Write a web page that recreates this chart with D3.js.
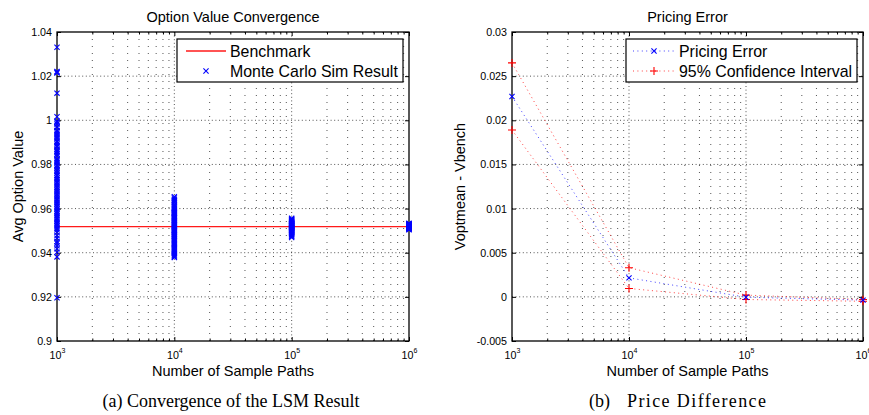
<!DOCTYPE html>
<html>
<head>
<meta charset="utf-8">
<script src="https://cdn.jsdelivr.net/npm/d3@7"></script>
<style>
  html, body { margin: 0; padding: 0; background: #fff; }
  svg { display: block; font-family: "Liberation Sans", Arial, Helvetica, sans-serif; }
  .caption { font-family: "Liberation Serif", "Times New Roman", serif; white-space: pre; }
</style>
</head>
<body>
<script>
// Sample sizes (number of simulated paths)
const nPaths = [1e3, 1e4, 1e5, 1e6];
const xTickExponents = ["3", "4", "5", "6"];

// Benchmark option value
const benchmark = 0.9518;

// Monte Carlo run results for each sample size
const mc1e3 = [1.0331, 1.0221, 1.0214, 1.0218, 1.0123, 1.0016, 0.9996, 0.9991, 0.9983, 0.9971,
  0.9968, 0.9954, 0.9949, 0.9941, 0.9933, 0.9925, 0.9917, 0.9906, 0.9902, 0.9893,
  0.9884, 0.9879, 0.9868, 0.9861, 0.9855, 0.9847, 0.9839, 0.9826, 0.9821, 0.9815,
  0.9808, 0.9797, 0.9792, 0.9784, 0.9776, 0.9769, 0.9761, 0.9752, 0.9748, 0.9739,
  0.9731, 0.9722, 0.9716, 0.9707, 0.9698, 0.9691, 0.9683, 0.9676, 0.9667, 0.9659,
  0.9652, 0.9644, 0.9637, 0.9628, 0.9621, 0.9613, 0.9606, 0.9598, 0.9589, 0.9582,
  0.9576, 0.9567, 0.9558, 0.9551, 0.9543, 0.9536, 0.9529, 0.9521, 0.9512, 0.9504,
  0.9493, 0.9478, 0.9466, 0.9451, 0.9443, 0.9431, 0.9418, 0.9402, 0.9381, 0.9196];
const mc1e4 = [0.9654, 0.9648, 0.9641, 0.9637, 0.9631, 0.9626, 0.9619, 0.9614, 0.9608, 0.9603,
  0.9597, 0.9592, 0.9586, 0.9581, 0.9577, 0.9572, 0.9566, 0.9563, 0.9558, 0.9554,
  0.9549, 0.9546, 0.9541, 0.9537, 0.9534, 0.9529, 0.9526, 0.9521, 0.9517, 0.9513,
  0.9508, 0.9504, 0.9499, 0.9495, 0.9491, 0.9486, 0.9482, 0.9477, 0.9473, 0.9468,
  0.9463, 0.9459, 0.9454, 0.9449, 0.9443, 0.9438, 0.9434, 0.9428, 0.9422, 0.9417,
  0.9411, 0.9406, 0.9401, 0.9396, 0.9391, 0.9386, 0.9382, 0.9378, 0.9581, 0.9502];
const mc1e5 = [0.9556, 0.9553, 0.9551, 0.9548, 0.9546, 0.9544, 0.9542, 0.9540, 0.9538, 0.9536,
  0.9534, 0.9532, 0.9530, 0.9528, 0.9527, 0.9525, 0.9523, 0.9521, 0.9520, 0.9518,
  0.9516, 0.9514, 0.9513, 0.9511, 0.9509, 0.9507, 0.9505, 0.9503, 0.9501, 0.9499,
  0.9497, 0.9495, 0.9493, 0.9490, 0.9487, 0.9484, 0.9481, 0.9477, 0.9473, 0.9469];
const mc1e6 = [0.9533, 0.9531, 0.9530, 0.9528, 0.9527, 0.9526, 0.9525, 0.9524, 0.9523, 0.9522,
  0.9521, 0.9520, 0.9519, 0.9518, 0.9517, 0.9516, 0.9515, 0.9514, 0.9513, 0.9512,
  0.9511, 0.9510, 0.9508, 0.9506, 0.9504];

// Pricing error (mean - benchmark) and its 95% confidence bounds
const pricingError = [0.0227, 0.00215, -0.00004, -0.00037];
const ciUpper = [0.0265, 0.0033, 0.0002, -0.0003];
const ciLower = [0.0189, 0.00095, -0.0003, -0.0005];

// Y tick values and labels
const leftYTicks = [0.9, 0.92, 0.94, 0.96, 0.98, 1, 1.02, 1.04];
const leftYLabels = ["0.9", "0.92", "0.94", "0.96", "0.98", "1", "1.02", "1.04"];
const rightYTicks = [-0.005, 0, 0.005, 0.01, 0.015, 0.02, 0.025, 0.03];
const rightYLabels = ["-0.005", "0", "0.005", "0.01", "0.015", "0.02", "0.025", "0.03"];

const svg = d3.select("body").append("svg").attr("width", 869).attr("height", 415);

const minorTicks = [];
[1e3, 1e4, 1e5].forEach(d => { for (let k = 2; k <= 9; k++) minorTicks.push(d * k); });

function panel(frame, yDomain, yTicks, yLabels, title, yTitle) {
  const x = d3.scaleLog().domain([1e3, 1e6]).range([frame.x0, frame.x1]);
  const y = d3.scaleLinear().domain(yDomain).range([frame.y1, frame.y0]);
  const g = svg.append("g");

  // grid
  const grid = g.append("g").attr("stroke", "#000").attr("fill", "none");
  grid.selectAll("line.minor").data(minorTicks).join("line")
    .attr("x1", d => x(d)).attr("x2", d => x(d))
    .attr("y1", frame.y0).attr("y2", frame.y1)
    .attr("stroke-width", 0.8).attr("stroke-dasharray", "1,6").attr("stroke-opacity", 0.85);
  grid.selectAll("line.majx").data(nPaths.slice(1, -1)).join("line")
    .attr("x1", d => x(d)).attr("x2", d => x(d))
    .attr("y1", frame.y0).attr("y2", frame.y1)
    .attr("stroke-width", 0.8).attr("stroke-dasharray", "1,2.6").attr("stroke-opacity", 0.85);
  grid.selectAll("line.majy").data(yTicks.slice(1, -1)).join("line")
    .attr("x1", frame.x0).attr("x2", frame.x1)
    .attr("y1", d => y(d)).attr("y2", d => y(d))
    .attr("stroke-width", 0.8).attr("stroke-dasharray", "1,2.6").attr("stroke-opacity", 0.85);

  // axes with inward ticks on all four sides
  const axes = g.append("g");
  const bottom = axes.append("g").attr("transform", `translate(0,${frame.y1})`)
    .call(d3.axisBottom(x).tickValues(nPaths).tickSizeInner(-4).tickSizeOuter(0));
  bottom.selectAll(".tick text").each(function (d, i) {
    const t = d3.select(this).text(null).attr("y", 17.5).attr("dy", null)
      .attr("font-size", 10.7).attr("text-anchor", "middle");
    t.append("tspan").text("10");
    t.append("tspan").attr("dy", -6).attr("font-size", 7).text(xTickExponents[i]);
  });
  axes.append("g").attr("transform", `translate(0,${frame.y0})`)
    .call(d3.axisTop(x).tickValues(nPaths).tickSizeInner(-4).tickSizeOuter(0).tickFormat(""));
  axes.append("g").attr("transform", `translate(0,${frame.y1})`)
    .call(d3.axisBottom(x).tickValues(minorTicks).tickSizeInner(-2.5).tickSizeOuter(0).tickFormat(""));
  axes.append("g").attr("transform", `translate(0,${frame.y0})`)
    .call(d3.axisTop(x).tickValues(minorTicks).tickSizeInner(-2.5).tickSizeOuter(0).tickFormat(""));
  const left = axes.append("g").attr("transform", `translate(${frame.x0},0)`)
    .call(d3.axisLeft(y).tickValues(yTicks).tickSizeInner(-4).tickSizeOuter(0).tickPadding(5)
      .tickFormat((d, i) => yLabels[i]));
  left.selectAll(".tick text").attr("font-size", 10.7).attr("fill", "#000");
  axes.append("g").attr("transform", `translate(${frame.x1},0)`)
    .call(d3.axisRight(y).tickValues(yTicks).tickSizeInner(-4).tickSizeOuter(0).tickFormat(""));
  axes.selectAll(".domain").remove();
  axes.selectAll(".tick line").attr("stroke", "#000");
  axes.selectAll("text").attr("font-family", null);

  axes.append("rect")
    .attr("x", frame.x0).attr("y", frame.y0)
    .attr("width", frame.x1 - frame.x0).attr("height", frame.y1 - frame.y0)
    .attr("fill", "none").attr("stroke", "#000").attr("stroke-width", 1.3);

  // titles
  const cx = (frame.x0 + frame.x1) / 2, cy = (frame.y0 + frame.y1) / 2;
  g.append("text").attr("x", cx).attr("y", 22).attr("text-anchor", "middle")
    .attr("font-size", 14.5).text(title);
  g.append("text").attr("x", cx).attr("y", 376).attr("text-anchor", "middle")
    .attr("font-size", 14.5).text("Number of Sample Paths");
  g.append("text").attr("transform", `translate(${frame.x0 - frame.yTitleOffset},${cy}) rotate(-90)`)
    .attr("text-anchor", "middle").attr("font-size", 14.5).text(yTitle);

  return { x, y, g };
}

const xMark = s => `M${-s},${-s}L${s},${s}M${-s},${s}L${s},${-s}`;
const plusMark = s => `M${-s},0H${s}M0,${-s}V${s}`;

// ---- Panel (a): option value convergence ----
const A = panel({ x0: 57, x1: 409, y0: 32, y1: 341, yTitleOffset: 34 },
  [0.9, 1.04], leftYTicks, leftYLabels, "Option Value Convergence", "Avg Option Value");

A.g.append("line")
  .attr("x1", A.x(1e3)).attr("x2", A.x(1e6))
  .attr("y1", A.y(benchmark)).attr("y2", A.y(benchmark))
  .attr("stroke", "#ff1a1a").attr("stroke-width", 1.4);

const mcRuns = [mc1e3, mc1e4, mc1e5, mc1e6].flatMap((vals, i) => vals.map(v => ({ n: nPaths[i], v })));
A.g.append("g").selectAll("path").data(mcRuns).join("path")
  .attr("transform", d => `translate(${A.x(d.n)},${A.y(d.v)})`)
  .attr("d", xMark(2.6)).attr("stroke", "#0000ff").attr("stroke-width", 1.1).attr("fill", "none");

// legend (a)
const legA = A.g.append("g");
legA.append("rect").attr("x", 177).attr("y", 39).attr("width", 226).attr("height", 43)
  .attr("fill", "#fff").attr("stroke", "#000").attr("stroke-width", 1.2);
legA.append("line").attr("x1", 186).attr("x2", 226).attr("y1", 51).attr("y2", 51)
  .attr("stroke", "#ff1a1a").attr("stroke-width", 1.4);
legA.append("path").attr("transform", "translate(206,71)").attr("d", xMark(2.6))
  .attr("stroke", "#0000ff").attr("stroke-width", 1.1).attr("fill", "none");
legA.append("text").attr("x", 230).attr("y", 56.5).attr("font-size", 15.9).text("Benchmark");
legA.append("text").attr("x", 230).attr("y", 76.5).attr("font-size", 15.9).text("Monte Carlo Sim Result");

// ---- Panel (b): pricing error ----
const B = panel({ x0: 512, x1: 863, y0: 32, y1: 341, yTitleOffset: 47 },
  [-0.005, 0.03], rightYTicks, rightYLabels, "Pricing Error", "Voptmean - Vbench");

const line = vals => d3.line().x((d, i) => B.x(nPaths[i])).y(d => B.y(d))(vals);
const dotted = { "stroke-width": 1, "stroke-dasharray": "1,3.4", "fill": "none", "stroke-opacity": 0.75 };
function styleDotted(sel, color) {
  Object.entries(dotted).forEach(([k, v]) => sel.attr(k, v));
  return sel.attr("stroke", color);
}
styleDotted(B.g.append("path").attr("d", line(ciUpper)), "#ff0000");
styleDotted(B.g.append("path").attr("d", line(ciLower)), "#ff0000");
styleDotted(B.g.append("path").attr("d", line(pricingError)), "#0000ff");

const ciPoints = nPaths.flatMap((n, i) => [{ n, v: ciUpper[i] }, { n, v: ciLower[i] }]);
B.g.append("g").selectAll("path").data(ciPoints).join("path")
  .attr("transform", d => `translate(${B.x(d.n)},${B.y(d.v)})`)
  .attr("d", plusMark(4)).attr("stroke", "#ff0000").attr("stroke-width", 1.1).attr("fill", "none");
B.g.append("g").selectAll("path").data(pricingError).join("path")
  .attr("transform", (d, i) => `translate(${B.x(nPaths[i])},${B.y(d)})`)
  .attr("d", xMark(2.6)).attr("stroke", "#0000ff").attr("stroke-width", 1.1).attr("fill", "none");

// legend (b)
const legB = B.g.append("g");
legB.append("rect").attr("x", 626).attr("y", 39).attr("width", 231).attr("height", 43)
  .attr("fill", "#fff").attr("stroke", "#000").attr("stroke-width", 1.2);
styleDotted(legB.append("line").attr("x1", 633).attr("x2", 674).attr("y1", 51).attr("y2", 51), "#0000ff");
legB.append("path").attr("transform", "translate(654,51)").attr("d", xMark(2.6))
  .attr("stroke", "#0000ff").attr("stroke-width", 1.1).attr("fill", "none");
styleDotted(legB.append("line").attr("x1", 633).attr("x2", 674).attr("y1", 71).attr("y2", 71), "#ff0000");
legB.append("path").attr("transform", "translate(654,71)").attr("d", plusMark(4))
  .attr("stroke", "#ff0000").attr("stroke-width", 1.1).attr("fill", "none");
legB.append("text").attr("x", 679).attr("y", 56.5).attr("font-size", 15.9).text("Pricing Error");
legB.append("text").attr("x", 679).attr("y", 76.5).attr("font-size", 15.9).text("95% Confidence Interval");

// sub-figure captions
svg.append("text").attr("class", "caption").attr("x", 231).attr("y", 407)
  .attr("text-anchor", "middle").attr("font-size", 18).text("(a) Convergence of the LSM Result");
svg.append("text").attr("class", "caption").attr("x", 589).attr("y", 407)
  .attr("font-size", 18).text("(b)");
svg.append("text").attr("class", "caption").attr("x", 766).attr("y", 407)
  .attr("text-anchor", "end").attr("font-size", 18)
  .attr("textLength", 139).attr("lengthAdjust", "spacing").text("Price Difference");
</script>
</body>
</html>
